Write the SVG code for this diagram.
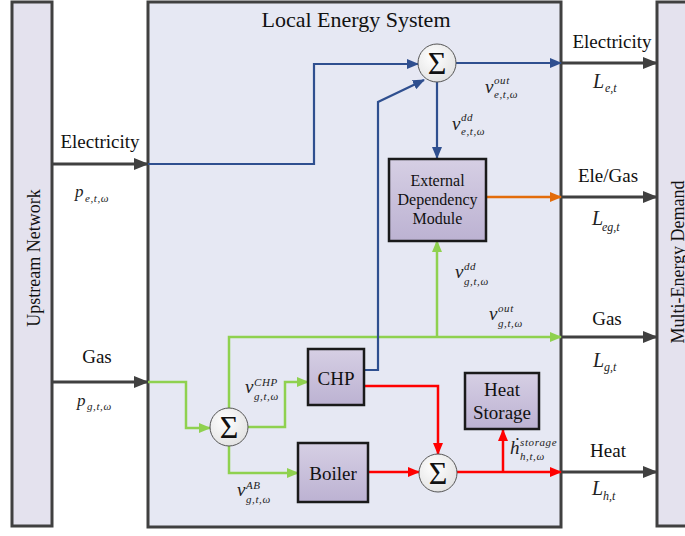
<svg xmlns="http://www.w3.org/2000/svg" width="685" height="536" viewBox="0 0 685 536">
<defs>
<style>
.bar{fill:#e4e2ee;stroke:#404040;stroke-width:3}
.main{fill:#e6e8f3;stroke:#404040;stroke-width:3}
.box{fill:url(#gbox);stroke:#1a1a1a;stroke-width:2.5}
.sum{fill:url(#gsum);stroke:#555;stroke-width:1}
.sig{font-family:"Liberation Serif","DejaVu Serif",serif;font-size:32px;fill:#111;text-anchor:middle}
.lbl{font-family:"Liberation Serif","DejaVu Serif",serif;font-size:19px;fill:#111}
.c{text-anchor:middle}
.mi{font-family:"Liberation Serif","DejaVu Serif",serif;font-style:italic;fill:#222}
.v{font-size:19px}
.s{font-size:11px;letter-spacing:0.6px}
.dk{fill:none;stroke:#404040;stroke-width:3;marker-end:url(#ad)}
.bl{fill:none;stroke:#2f4f8f;stroke-width:2.2;marker-end:url(#ab)}
.gr{fill:none;stroke:#8fd14f;stroke-width:2.5;marker-end:url(#ag)}
.rd{fill:none;stroke:#ff0000;stroke-width:2.5;marker-end:url(#ar)}
.or{fill:none;stroke:#e36c0a;stroke-width:2.5;marker-end:url(#ao)}
</style>
<linearGradient id="gbox" x1="0" y1="0" x2="0" y2="1"><stop offset="0" stop-color="#d6cfe4"/><stop offset="1" stop-color="#bcb2d2"/></linearGradient>
<radialGradient id="gsum" cx="0.4" cy="0.35" r="0.75"><stop offset="0" stop-color="#ffffff"/><stop offset="1" stop-color="#e0e0e0"/></radialGradient>
<marker id="ad" viewBox="0 0 15 12" refX="14" refY="6" markerWidth="15" markerHeight="12" orient="auto" markerUnits="userSpaceOnUse"><path d="M0,0 L15,6 L0,12 Z" fill="#404040"/></marker>
<marker id="ab" viewBox="0 0 12 10" refX="11" refY="5" markerWidth="12" markerHeight="10" orient="auto" markerUnits="userSpaceOnUse"><path d="M0,0 L12,5 L0,10 Z" fill="#2f4f8f"/></marker>
<marker id="ag" viewBox="0 0 12 10" refX="11" refY="5" markerWidth="12" markerHeight="10" orient="auto" markerUnits="userSpaceOnUse"><path d="M0,0 L12,5 L0,10 Z" fill="#8fd14f"/></marker>
<marker id="ar" viewBox="0 0 12 10" refX="11" refY="5" markerWidth="12" markerHeight="10" orient="auto" markerUnits="userSpaceOnUse"><path d="M0,0 L12,5 L0,10 Z" fill="#ff0000"/></marker>
<marker id="ao" viewBox="0 0 12 10" refX="11" refY="5" markerWidth="12" markerHeight="10" orient="auto" markerUnits="userSpaceOnUse"><path d="M0,0 L12,5 L0,10 Z" fill="#e36c0a"/></marker>
</defs>
<rect width="685" height="536" fill="#ffffff"/>

<g id="upstream">
<rect class="bar" x="12" y="2" width="40" height="524"/>
<text class="lbl c" transform="translate(40,258) rotate(-90)" style="font-size:18px">Upstream Network</text>
</g>

<g id="local-energy-system">
<rect class="main" x="148" y="2" width="413" height="525"/>
<text class="lbl c" x="356" y="27" style="font-size:22px">Local Energy System</text>
</g>

<g id="demand">
<rect class="bar" x="657" y="2" width="45" height="524"/>
<text class="lbl c" transform="translate(684,262) rotate(-90)" style="font-size:18px">Multi-Energy Demand</text>
</g>

<g id="connectors">
<path class="dk" d="M52,164 H148"/>
<path class="dk" d="M52,382 H148"/>
<path class="dk" d="M561,63 H657"/>
<path class="dk" d="M561,197 H657"/>
<path class="dk" d="M561,337 H657"/>
<path class="dk" d="M561,472 H657"/>

<path class="gr" d="M148,382 H186 V428 H210"/>
<path class="gr" d="M229,408 V337 H561"/>
<path class="gr" d="M437,337 V241"/>
<path class="gr" d="M248,427 H285 V382 H308"/>
<path class="gr" d="M229,446 V473 H298"/>

<path class="bl" d="M148,164 H314 V64 H418"/>
<path class="bl" d="M365,370 H378 V102 L424,80"/>
<path class="bl" d="M437,82 V158"/>
<path class="bl" d="M456,63 H561"/>

<path class="or" d="M486,197 H561"/>

<path class="rd" d="M364,386 H438 V454"/>
<path class="rd" d="M368,472 H419"/>
<path class="rd" d="M457,472 H561"/>
<path class="rd" d="M503,472 V430"/>
</g>

<g id="sum-e">
<circle class="sum" cx="437" cy="63" r="19"/>
<text class="sig" x="437" y="74">Σ</text>
</g>
<g id="sum-g">
<circle class="sum" cx="229" cy="427" r="19"/>
<text class="sig" x="229" y="438">Σ</text>
</g>
<g id="sum-h">
<circle class="sum" cx="438" cy="473" r="19"/>
<text class="sig" x="438" y="484">Σ</text>
</g>

<g id="edm">
<rect class="box" x="389" y="159" width="97" height="82"/>
<text class="lbl c" x="437.5" y="186" style="font-size:16px">External</text>
<text class="lbl c" x="437.5" y="205" style="font-size:16px">Dependency</text>
<text class="lbl c" x="437.5" y="224" style="font-size:16px">Module</text>
</g>

<g id="chp">
<rect class="box" x="308" y="349" width="56" height="56"/>
<text class="lbl c" x="336" y="385">CHP</text>
</g>

<g id="boiler">
<rect class="box" x="298" y="443" width="70" height="59"/>
<text class="lbl c" x="333" y="480">Boiler</text>
</g>

<g id="heat-storage">
<rect class="box" x="465" y="373" width="74" height="56"/>
<text class="lbl c" x="502" y="396">Heat</text>
<text class="lbl c" x="502" y="419">Storage</text>
</g>

<g id="labels">
<text class="lbl c" x="100" y="148">Electricity</text>
<text class="mi" x="75" y="197" style="font-size:17px">p</text>
<text class="mi s" x="85" y="202">e,t,ω</text>
<text class="lbl c" x="97" y="363">Gas</text>
<text class="mi" x="77" y="406" style="font-size:17px">p</text>
<text class="mi s" x="87" y="410">g,t,ω</text>

<text class="lbl c" x="612" y="48">Electricity</text>
<text class="mi" x="593" y="88" style="font-size:20px">L</text>
<text class="mi" x="605" y="92" style="font-size:12px">e,t</text>
<text class="lbl c" x="608" y="182">Ele/Gas</text>
<text class="mi" x="592" y="225" style="font-size:20px">L</text>
<text class="mi" x="602" y="231" style="font-size:12px">eg,t</text>
<text class="lbl c" x="607" y="325">Gas</text>
<text class="mi" x="593" y="367" style="font-size:20px">L</text>
<text class="mi" x="604" y="371" style="font-size:12px">g,t</text>
<text class="lbl c" x="608" y="457">Heat</text>
<text class="mi" x="592" y="495" style="font-size:20px">L</text>
<text class="mi" x="603" y="500" style="font-size:12px">h,t</text>

<text class="mi v" x="485" y="93">v</text>
<text class="mi s" x="494" y="84">out</text>
<text class="mi s" x="494" y="98">e,t,ω</text>

<text class="mi v" x="452" y="130">v</text>
<text class="mi s" x="461" y="121">dd</text>
<text class="mi s" x="461" y="135">e,t,ω</text>

<text class="mi v" x="455" y="278">v</text>
<text class="mi s" x="464" y="270">dd</text>
<text class="mi s" x="464" y="285">g,t,ω</text>

<text class="mi v" x="489" y="320">v</text>
<text class="mi s" x="498" y="312">out</text>
<text class="mi s" x="498" y="327">g,t,ω</text>

<text class="mi v" x="245" y="393">v</text>
<text class="mi s" x="254" y="386">CHP</text>
<text class="mi s" x="254" y="400">g,t,ω</text>

<text class="mi v" x="237" y="496">v</text>
<text class="mi s" x="246" y="489">AB</text>
<text class="mi s" x="246" y="503">g,t,ω</text>

<text class="mi v" x="510" y="454">ḣ</text>
<text class="mi s" x="520" y="446">storage</text>
<text class="mi s" x="520" y="460">h,t,ω</text>
</g>
</svg>
